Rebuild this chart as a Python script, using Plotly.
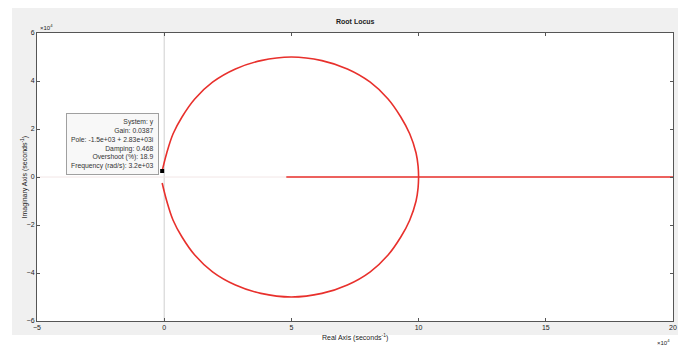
import plotly.graph_objects as go

# Root locus data (units of 1e4 s^-1)
upper_x = [-0.08, 0.1, 0.35, 0.7, 1.2, 1.9, 2.8, 3.8, 5.0, 6.2, 7.2, 8.1, 8.8, 9.3, 9.65, 9.9, 9.98, 10.0]
upper_y = [0.25, 1.0, 1.8, 2.5, 3.25, 3.95, 4.5, 4.85, 5.0, 4.85, 4.5, 3.95, 3.25, 2.5, 1.8, 1.0, 0.45, 0.0]
lower_x = [10.0, 9.98, 9.9, 9.65, 9.3, 8.8, 8.1, 7.2, 6.2, 5.0, 3.8, 2.8, 1.9, 1.2, 0.7, 0.35, 0.1, -0.08]
lower_y = [0.0, -0.45, -1.0, -1.8, -2.5, -3.25, -3.95, -4.5, -4.85, -5.0, -4.85, -4.5, -3.95, -3.25, -2.5, -1.8, -1.0, -0.25]
real_x = [4.8, 20.0]
real_y = [0.0, 0.0]
tip_x = [-0.08]
tip_y = [0.25]

x_ticks = [-5, 0, 5, 10, 15, 20]
y_ticks = [-6, -4, -2, 0, 2, 4, 6]

tip_lines = ["System: y", "Gain: 0.0387", "Pole: -1.5e+03 + 2.83e+03i",
             "Damping: 0.468", "Overshoot (%): 18.9", "Frequency (rad/s): 3.2e+03"]

RED = "#e8302c"
GRAY = "#f0f0f0"
fig = go.Figure()
# axis guide lines
fig.add_trace(go.Scatter(x=[0, 0], y=[-6, 6], mode="lines",
                         line=dict(color="#c4c4c4", width=0.8), hoverinfo="skip"))
fig.add_trace(go.Scatter(x=[-5, 20], y=[0, 0], mode="lines",
                         line=dict(color="#f2e6e6", width=1), hoverinfo="skip"))
for xs, ys in [(upper_x, upper_y), (lower_x, lower_y), (real_x, real_y)]:
    fig.add_trace(go.Scatter(x=xs, y=ys, mode="lines", line_shape="spline",
                             line=dict(color=RED, width=1.6)))
fig.add_trace(go.Scatter(x=tip_x, y=tip_y, mode="markers",
                         marker=dict(color="black", size=4, symbol="square")))

axis_common = dict(showgrid=False, zeroline=False, showline=True, linecolor="#555555",
                   linewidth=1, mirror="ticks", ticks="inside", ticklen=3, automargin=False,
                   tickcolor="#555555", tickfont=dict(size=7, color="#222222", family="Arial"))
fig.update_xaxes(range=[-5, 20], tickvals=x_ticks, **axis_common)
fig.update_yaxes(range=[-6, 6], tickvals=y_ticks, **axis_common)

# gray figure frame drawn as four strips around the plot area
X0, X1, Y0, Y1 = -0.0393, 1.0079, -0.0486, 1.097
for (a, b, c, d) in [(X0, 0, Y0, Y1), (1, X1, Y0, Y1), (0, 1, 1, Y1), (0, 1, Y0, 0)]:
    fig.add_shape(type="rect", xref="paper", yref="paper", x0=a, x1=b, y0=c, y1=d,
                  fillcolor=GRAY, line=dict(width=0), layer="below")

fig.add_annotation(text="<b>Root Locus</b>", xref="paper", yref="paper", x=0.5, y=1.06,
                   showarrow=False, font=dict(size=7, color="#222222", family="Arial"))
fig.add_annotation(text="Real Axis (seconds<sup>-1</sup>)", xref="paper", yref="paper",
                   x=0.5, y=-0.058, yanchor="middle", showarrow=False,
                   font=dict(size=7, color="#222222", family="Arial"))
fig.add_annotation(text="Imaginary Axis (seconds<sup>-1</sup>)", xref="paper", yref="paper",
                   x=-0.03, y=0.5, textangle=-90, showarrow=False,
                   font=dict(size=7, color="#222222", family="Arial"))
fig.add_annotation(text="\u00d710<sup>4</sup>", xref="paper", yref="paper", x=0.002, y=1.0,
                   xanchor="left", yanchor="bottom", showarrow=False,
                   font=dict(size=6, color="#222222", family="Arial"))
fig.add_annotation(text="\u00d710<sup>4</sup>", xref="paper", yref="paper", x=0.998, y=-0.072,
                   xanchor="right", yanchor="middle", showarrow=False,
                   font=dict(size=6, color="#222222", family="Arial"))
fig.add_annotation(text="<br>".join(tip_lines), x=0.192, y=0.507, xref="paper", yref="paper",
                   xanchor="right", yanchor="bottom", align="right", showarrow=False,
                   bgcolor="#f8f8f8", bordercolor="#a0a0a0", borderwidth=1, borderpad=4,
                   font=dict(size=6.8, color="#333333", family="Arial"))

fig.update_layout(width=683, height=337, margin=dict(l=29, r=18, t=25, b=24, pad=0),
                  paper_bgcolor="white", plot_bgcolor="white", showlegend=False)
fig.write_html("out.html")
